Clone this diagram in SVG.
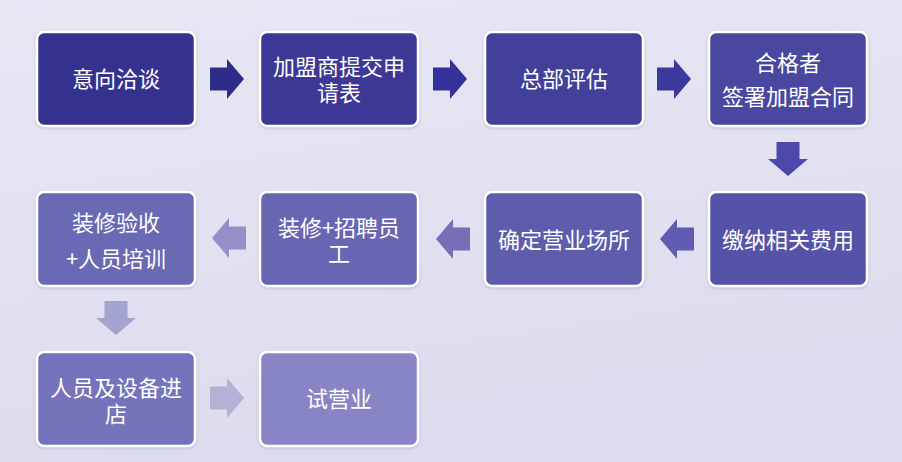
<svg xmlns="http://www.w3.org/2000/svg" width="902" height="462" viewBox="0 0 902 462">
  <defs>
    <linearGradient id="bg" x1="0" y1="0" x2="0.3" y2="1">
      <stop offset="0" stop-color="#e7e7f4"/>
      <stop offset="1" stop-color="#dcdcee"/>
    </linearGradient>
    <filter id="sh" x="-10%" y="-10%" width="120%" height="120%">
      <feDropShadow dx="0" dy="1" stdDeviation="1.5" flood-color="#6a6aa0" flood-opacity="0.35"/>
    </filter>
    <path id="arr" d="M0,-11.5 H17 V-20 L34,0 L17,20 V11.5 H0 Z"/>
  </defs>
  <style>
    .box { stroke: #ffffff; stroke-width: 2.5; filter: url(#sh); }
    .t { font-family: "Noto Sans CJK SC", "Liberation Sans", sans-serif; font-size: 22px; fill: #ffffff; text-anchor: middle; }
  </style>
  <rect width="902" height="462" fill="url(#bg)"/>

  <g id="connectors">
    <use href="#arr" transform="translate(210,79)" fill="#2f2b8a"/>
    <use href="#arr" transform="translate(433,79)" fill="#35319a"/>
    <use href="#arr" transform="translate(657,79)" fill="#3b38a0"/>
    <use href="#arr" transform="translate(788,142) rotate(90)" fill="#4c49aa"/>
    <use href="#arr" transform="translate(694,239) rotate(180)" fill="#5f5cb2"/>
    <use href="#arr" transform="translate(470,239) rotate(180)" fill="#7370b8"/>
    <use href="#arr" transform="translate(246,238) rotate(180)" fill="#9190c8"/>
    <use href="#arr" transform="translate(116,301) rotate(90)" fill="#a4a4d0"/>
    <use href="#arr" transform="translate(210,398)" fill="#b2b2d6"/>
  </g>

  <g id="n1">
    <rect class="box" x="37" y="32" width="158" height="94" rx="7" fill="#36328f"/>
    <text class="t" x="116" y="87">意向洽谈</text>
  </g>
  <g id="n2">
    <rect class="box" x="260" y="32" width="158" height="94" rx="7" fill="#3c3895"/>
    <text class="t" x="339" y="75">加盟商提交申<tspan x="339" dy="26">请表</tspan></text>
  </g>
  <g id="n3">
    <rect class="box" x="485" y="32" width="158" height="94" rx="7" fill="#423f9b"/>
    <text class="t" x="564" y="87">总部评估</text>
  </g>
  <g id="n4">
    <rect class="box" x="709" y="32" width="158" height="94" rx="7" fill="#4946a0"/>
    <text class="t" x="788" y="71">合格者<tspan x="788" dy="34">签署加盟合同</tspan></text>
  </g>
  <g id="n5">
    <rect class="box" x="709" y="192" width="158" height="94" rx="7" fill="#5552a8"/>
    <text class="t" x="788" y="248">缴纳相关费用</text>
  </g>
  <g id="n6">
    <rect class="box" x="485" y="192" width="158" height="94" rx="7" fill="#5d5bad"/>
    <text class="t" x="564" y="248">确定营业场所</text>
  </g>
  <g id="n7">
    <rect class="box" x="260" y="192" width="158" height="94" rx="7" fill="#6866b3"/>
    <text class="t" x="339" y="236">装修+招聘员<tspan x="339" dy="26">工</tspan></text>
  </g>
  <g id="n8">
    <rect class="box" x="37" y="192" width="158" height="94" rx="7" fill="#6b69b4"/>
    <text class="t" x="116" y="231">装修验收<tspan x="116" dy="36">+人员培训</tspan></text>
  </g>
  <g id="n9">
    <rect class="box" x="37" y="352" width="158" height="94" rx="7" fill="#7573bb"/>
    <text class="t" x="116" y="396">人员及设备进<tspan x="116" dy="26">店</tspan></text>
  </g>
  <g id="n10">
    <rect class="box" x="260" y="352" width="158" height="94" rx="7" fill="#8785c5"/>
    <text class="t" x="339" y="407">试营业</text>
  </g>
</svg>
